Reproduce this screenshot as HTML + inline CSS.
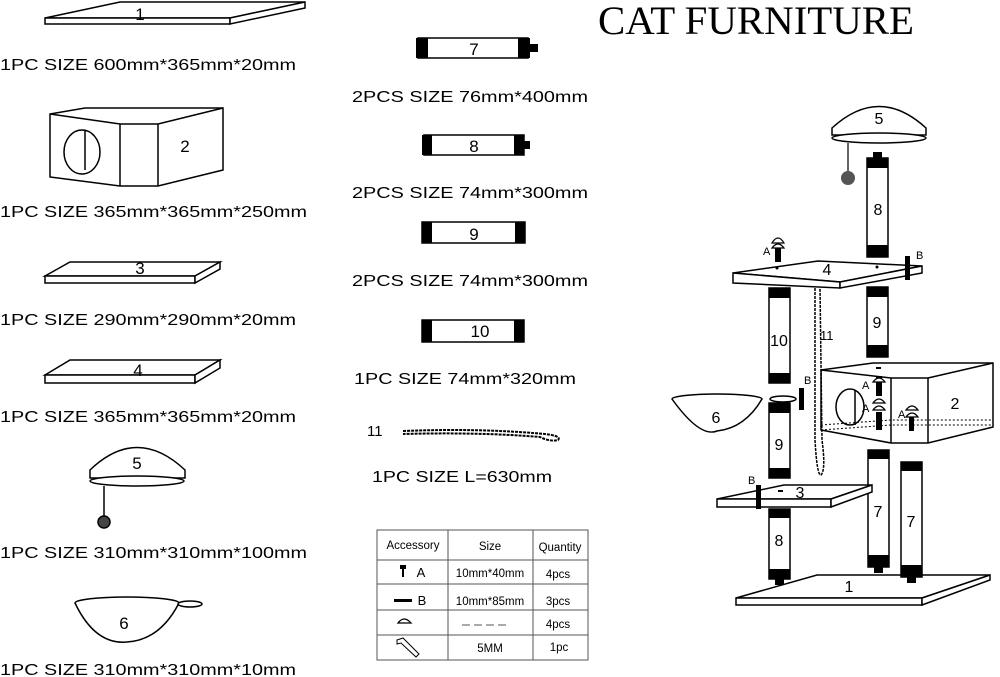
<!DOCTYPE html>
<html><head><meta charset="utf-8"><style>
html,body{margin:0;padding:0;background:#fff;}
svg{display:block;font-family:"Liberation Sans",sans-serif;}
</style></head><body>
<svg width="1000" height="677" viewBox="0 0 1000 677" xmlns="http://www.w3.org/2000/svg">
<g fill="none" stroke="#000" stroke-width="1.5">
<!-- Part 1 -->
<polygon points="45,18 120,2 305,2 230,18" fill="#fff"/>
<polygon points="45,18 230,18 230,24 45,24" fill="#fff"/>
<polygon points="230,18 305,2 305,8 230,24" fill="#fff"/>
<!-- Part 2 -->
<polygon points="50,114 85,108 223,108 223,170 158,186 120,186 50,177" fill="#fff"/>
<polyline points="50,114 120,124 158,124 223,108"/>
<line x1="120" y1="124" x2="120" y2="186"/><line x1="158" y1="124" x2="158" y2="186"/>
<ellipse cx="82" cy="152" rx="18" ry="22"/><line x1="85" y1="130" x2="85" y2="170"/>
<!-- Part 3 -->
<polygon points="45,276 70,262 220,262 195,276" fill="#fff"/>
<polygon points="45,276 195,276 195,283 45,283" fill="#fff"/>
<polygon points="195,276 220,262 220,269 195,283" fill="#fff"/>
<!-- Part 4 -->
<polygon points="45,375 70,360 220,360 195,375" fill="#fff"/>
<polygon points="45,375 195,375 195,383 45,383" fill="#fff"/>
<polygon points="195,375 220,360 220,368 195,383" fill="#fff"/>
<!-- Part 5 -->
<path d="M90,478 L90,470 Q137,425 185,470 L185,478 Z" fill="#fff"/>
<ellipse cx="137" cy="481" rx="47" ry="5" fill="#fff"/>
<line x1="104" y1="486" x2="104" y2="516"/>
<circle cx="104" cy="522" r="6" fill="#444"/>
<!-- Part 6 -->
<ellipse cx="127" cy="603" rx="52" ry="6" fill="#fff"/>
<path d="M75,603 Q95,645 127,642 Q160,640 179,603" fill="#fff"/>
<ellipse cx="190" cy="604" rx="12" ry="3" fill="#fff"/>
<!-- middle posts -->
<rect x="418" y="38" width="110" height="20" fill="#fff"/>
<rect x="424" y="135" width="100" height="20" fill="#fff"/>
<rect x="422" y="222" width="103" height="21" fill="#fff"/>
<rect x="422" y="320" width="102" height="22" fill="#fff"/>
</g>
<g fill="#000">
<rect x="416" y="38" width="12" height="20"/><rect x="518" y="38" width="12" height="20"/><rect x="530" y="44" width="8" height="8"/>
<rect x="422" y="135" width="10" height="20"/><rect x="514" y="135" width="10" height="20"/><rect x="524" y="141" width="6" height="8"/>
<rect x="422" y="222" width="10" height="21"/><rect x="515" y="222" width="10" height="21"/>
<rect x="422" y="320" width="10" height="22"/><rect x="514" y="320" width="10" height="22"/>
</g>
<path d="M403,431 Q480,428 545,434 Q562,436 558,440 Q550,442 540,437 Q480,432 403,434" fill="none" stroke="#000" stroke-width="2" stroke-dasharray="3,1"/>
<g font-size="17" text-anchor="middle">
<text x="140" y="20">1</text><text x="185" y="152">2</text><text x="140" y="274">3</text><text x="138" y="376">4</text><text x="137" y="469">5</text><text x="124" y="629">6</text>
<text x="474" y="55">7</text><text x="474" y="152">8</text><text x="474" y="240">9</text><text x="480" y="337">10</text>
</g>
<text x="367" y="436" font-size="15">11</text>
<g font-size="15.5">
<text x="0" y="70" textLength="296" lengthAdjust="spacingAndGlyphs">1PC SIZE 600mm*365mm*20mm</text>
<text x="0" y="217" textLength="307" lengthAdjust="spacingAndGlyphs">1PC SIZE 365mm*365mm*250mm</text>
<text x="0" y="325" textLength="296" lengthAdjust="spacingAndGlyphs">1PC SIZE 290mm*290mm*20mm</text>
<text x="0" y="422" textLength="296" lengthAdjust="spacingAndGlyphs">1PC SIZE 365mm*365mm*20mm</text>
<text x="0" y="558" textLength="307" lengthAdjust="spacingAndGlyphs">1PC SIZE 310mm*310mm*100mm</text>
<text x="0" y="675" textLength="296" lengthAdjust="spacingAndGlyphs">1PC SIZE 310mm*310mm*10mm</text>
<text x="352" y="102" textLength="236" lengthAdjust="spacingAndGlyphs">2PCS SIZE 76mm*400mm</text>
<text x="352" y="198" textLength="236" lengthAdjust="spacingAndGlyphs">2PCS SIZE 74mm*300mm</text>
<text x="352" y="286" textLength="236" lengthAdjust="spacingAndGlyphs">2PCS SIZE 74mm*300mm</text>
<text x="354" y="384" textLength="222" lengthAdjust="spacingAndGlyphs">1PC SIZE 74mm*320mm</text>
<text x="372" y="482" textLength="180" lengthAdjust="spacingAndGlyphs">1PC SIZE L=630mm</text>
</g>
<text x="598" y="34" font-family="Liberation Serif,serif" font-size="40" textLength="316" lengthAdjust="spacingAndGlyphs">CAT FURNITURE</text>
<!-- table -->
<g fill="none" stroke="#555" stroke-width="1">
<rect x="377" y="530" width="211" height="130"/>
<line x1="448" y1="530" x2="448" y2="660"/><line x1="533" y1="530" x2="533" y2="660"/>
<line x1="377" y1="560" x2="588" y2="560"/><line x1="377" y1="584" x2="588" y2="584"/><line x1="377" y1="610" x2="588" y2="610"/><line x1="377" y1="635" x2="588" y2="635"/>
<line x1="462" y1="625" x2="470" y2="625"/><line x1="474" y1="625" x2="482" y2="625"/><line x1="486" y1="625" x2="494" y2="625"/><line x1="498" y1="625" x2="506" y2="625"/>
<path d="M398,623 Q404,615 411,623 Z" stroke="#000" stroke-width="1.3"/>
<path d="M397,640 L403,638 L419,654 L416,657 L401,643 L397,644 Z" stroke="#000"/>
</g>
<rect x="400" y="565" width="6" height="4" fill="#000"/><rect x="402" y="569" width="2" height="8" fill="#000"/>
<rect x="394" y="599" width="18" height="3" fill="#000"/>
<g font-size="11.5" text-anchor="middle">
<text x="413" y="549">Accessory</text><text x="490" y="550">Size</text><text x="560" y="551">Quantity</text>
<text x="421" y="577" font-size="13">A</text><text x="490" y="577">10mm*40mm</text><text x="558" y="578">4pcs</text>
<text x="422" y="605" font-size="13">B</text><text x="490" y="605">10mm*85mm</text><text x="558" y="605">3pcs</text>
<text x="558" y="628">4pcs</text>
<text x="490" y="652">5MM</text><text x="559" y="651">1pc</text>
</g>
<!-- right assembly -->
<g stroke="#000" stroke-width="1.5" fill="#fff">
<polygon points="736,598 817,575 990,575 922,598"/>
<polygon points="736,598 922,598 922,605 736,605"/>
<polygon points="922,598 990,575 990,580 922,605"/>
<rect x="769" y="509" width="21" height="70"/>
<rect x="868" y="450" width="21" height="117"/>
<rect x="901" y="462" width="21" height="115"/>
<rect x="769" y="403" width="21" height="75"/>
<rect x="769" y="288" width="21" height="95"/>
<rect x="867" y="287" width="21" height="70"/>
<rect x="867" y="158" width="21" height="99"/>
<polygon points="717,499 784,485 872,485 831,499"/>
<polygon points="717,499 831,499 831,507 717,507"/>
<polygon points="831,499 872,485 872,492 831,507"/>
<polygon points="733,273 818,261 922,266 840,282"/>
<polygon points="733,273 840,282 840,288 733,283"/>
<polygon points="840,282 922,266 922,273 840,288"/>
<polygon points="821,370 873,363 993,363 993,427 928,443 891,443 821,430"/>
<line x1="821" y1="370" x2="891" y2="378"/><line x1="891" y1="378" x2="928" y2="378"/><line x1="928" y1="378" x2="993" y2="363"/>
<line x1="891" y1="378" x2="891" y2="443"/><line x1="928" y1="378" x2="928" y2="443"/>
<ellipse cx="850" cy="407" rx="14" ry="18"/><line x1="855" y1="390" x2="855" y2="425"/>
<path d="M821,425 L891,420 L993,420" stroke-dasharray="2,2" fill="none" stroke-width="1"/>
<path d="M821,430 L891,425 L993,425" stroke-dasharray="2,2" fill="none" stroke-width="1"/>
<path d="M832,135 L832,128 Q879,85 926,128 L926,135 Z"/>
<ellipse cx="879" cy="138" rx="47" ry="5"/>
<ellipse cx="717" cy="399" rx="45" ry="5"/>
<path d="M672,399 Q700,438 717,431 Q745,428 762,399"/>
<ellipse cx="783" cy="399" rx="13" ry="3"/>
</g>
<line x1="848" y1="143" x2="848" y2="172" stroke="#000" stroke-width="1.2"/>
<circle cx="848" cy="178" r="7" fill="#555"/>
<g fill="#000">
<rect x="769" y="509" width="21" height="9"/><rect x="769" y="569" width="21" height="10"/><rect x="775" y="579" width="9" height="6"/>
<rect x="868" y="450" width="21" height="9"/><rect x="868" y="555" width="21" height="12"/><rect x="874" y="567" width="9" height="6"/>
<rect x="901" y="462" width="21" height="9"/><rect x="901" y="565" width="21" height="12"/><rect x="907" y="577" width="9" height="6"/>
<rect x="769" y="403" width="21" height="10"/><rect x="769" y="468" width="21" height="10"/>
<rect x="769" y="288" width="21" height="10"/><rect x="769" y="373" width="21" height="10"/>
<rect x="867" y="287" width="21" height="10"/><rect x="867" y="345" width="21" height="12"/>
<rect x="867" y="158" width="21" height="10"/><rect x="867" y="245" width="21" height="12"/><rect x="873" y="152" width="9" height="7"/>
<rect x="905" y="256" width="5" height="24"/><rect x="799" y="388" width="5" height="22"/><rect x="756" y="485" width="5" height="24"/>
<rect x="775" y="244" width="6" height="18"/><rect x="876" y="376" width="6" height="20"/><rect x="876" y="412" width="6" height="18"/><rect x="909" y="415" width="5" height="16"/>
<circle cx="777" cy="268" r="1.5"/><circle cx="877" cy="267" r="1.5"/><rect x="778" y="490" width="5" height="2"/><rect x="876" y="367" width="5" height="2"/>
</g>
<g fill="#fff" stroke="#000" stroke-width="1.2">
<path d="M772,243 Q778,233 784,243 Z"/><path d="M772,248 Q778,240 784,248 Z"/>
<path d="M873,382 Q879,374 885,382 Z"/><path d="M873,403 Q879,395 885,403 Z"/><path d="M873,410 Q879,402 885,410 Z"/>
<path d="M906,410 Q912,402 918,410 Z"/><path d="M906,417 Q912,409 918,417 Z"/>
</g>
<path d="M815,288 L815,440 Q817,476 821,475 Q826,470 822,440 L820,288" fill="none" stroke="#000" stroke-width="1.5" stroke-dasharray="3,1"/>
<g font-size="16" text-anchor="middle">
<text x="879" y="124">5</text><text x="878" y="215">8</text><text x="827" y="275">4</text><text x="877" y="328">9</text><text x="779" y="346">10</text>
<text x="955" y="409">2</text><text x="716" y="423">6</text><text x="779" y="450">9</text><text x="800" y="498">3</text><text x="779" y="546">8</text>
<text x="878" y="517">7</text><text x="911" y="527">7</text><text x="849" y="592">1</text>
</g>
<g font-size="11">
<text x="820" y="340" font-size="13">11</text>
<text x="763" y="255">A</text><text x="916" y="259">B</text><text x="804" y="384">B</text><text x="748" y="484">B</text>
<text x="862" y="389">A</text><text x="862" y="412">A</text><text x="898" y="418">A</text>
</g>
</svg>
</body></html>
